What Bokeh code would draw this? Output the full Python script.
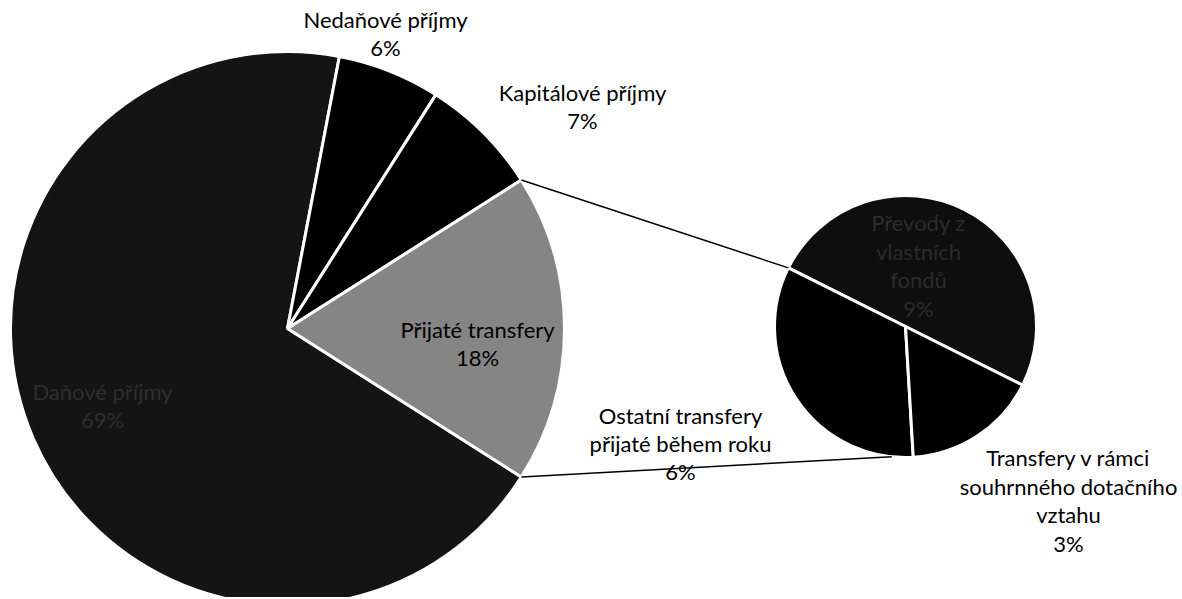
import math
from bokeh.plotting import figure
from bokeh.models import Range1d, ColumnDataSource
from bokeh.core.properties import value
from bokeh.embed import file_html
from bokeh.resources import INLINE

# ---- data (percent shares) ----
main_categories = ["Daňové příjmy", "Nedaňové příjmy", "Kapitálové příjmy", "Přijaté transfery"]
main_values = [69, 6, 7, 18]
main_labels = ["69%", "6%", "7%", "18%"]

sub_categories = ["Převody z\nvlastních\nfondů", "Ostatní transfery\npřijaté během roku",
                  "Transfery v rámci\nsouhrnného dotačního\nvztahu"]
sub_values = [9, 6, 3]
sub_labels = ["9%", "6%", "3%"]

# ---- layout / style ----
W, H = 1180, 597
OX, OY = 0, 0  # data coords equal screen pixels
main_c = (287, 328)
main_r = 277
sub_c = (905, 326)
sub_r = 131
sub_start_deg = -26.6
conn_end_deg = (153.4, -96.0)

main_colors = ["#141414", "#000000", "#000000", "#858585"]
sub_colors = ["#0e0e0e", "#000000", "#000000"]
main_text_colors = ["#2e2e2e", "black", "black", "black"]
sub_text_colors = ["#2c2c2c", "black", "black"]
main_label_pos = [(102, 405), (385, 33), (582, 106), (477, 343)]
sub_label_pos = [(918, 265), (680, 443), (1068, 500)]

FONT = "Lato"
FS = "22px"

p = figure(width=W, height=H, output_backend="svg", toolbar_location=None,
           x_range=Range1d(OX, OX + W), y_range=Range1d(-(OY + H), -OY),
           min_border=0)
p.axis.visible = False
p.xgrid.visible = False
p.ygrid.visible = False
p.outline_line_color = None
p.background_fill_color = "white"
p.border_fill_color = "white"

# main pie: "other" slice (Přijaté transfery) centred on the right (0 deg)
tot = sum(main_values)
ang = [v / tot * 2 * math.pi for v in main_values]
t_half = ang[3] / 2
order = [3, 2, 1, 0]
starts, ends = {}, {}
a = -t_half
for i in order:
    starts[i] = a
    ends[i] = a + ang[i]
    a += ang[i]

src_main = ColumnDataSource(dict(
    x=[main_c[0]] * 4, y=[-main_c[1]] * 4,
    start=[starts[i] for i in range(4)], end=[ends[i] for i in range(4)],
    color=main_colors, name=main_categories))
p.wedge(x="x", y="y", radius=main_r, start_angle="start", end_angle="end",
        fill_color="color", line_color="white", line_width=3, source=src_main)

# secondary pie
stot = sum(sub_values)
s_st, s_en = [], []
a = math.radians(sub_start_deg)
for v in sub_values:
    s_st.append(a)
    a += v / stot * 2 * math.pi
    s_en.append(a)
src_sub = ColumnDataSource(dict(
    x=[sub_c[0]] * 3, y=[-sub_c[1]] * 3, start=s_st, end=s_en,
    color=sub_colors, name=sub_categories))
p.wedge(x="x", y="y", radius=sub_r, start_angle="start", end_angle="end",
        fill_color="color", line_color="white", line_width=3, source=src_sub)

# connector lines
for edge, e_deg in ((starts[3] + ang[3], conn_end_deg[0]), (starts[3], conn_end_deg[1])):
    x0 = main_c[0] + main_r * math.cos(edge)
    y0 = -main_c[1] + main_r * math.sin(edge)
    x1 = sub_c[0] + sub_r * math.cos(math.radians(e_deg))
    y1 = -sub_c[1] + sub_r * math.sin(math.radians(e_deg))
    p.line([x0, x1], [y0, y1], line_color="black", line_width=1.5)

# labels
lab_x = [pos[0] for pos in main_label_pos] + [pos[0] for pos in sub_label_pos]
lab_y = [-pos[1] for pos in main_label_pos] + [-pos[1] for pos in sub_label_pos]
lab_t = [f"{n}\n{l}" for n, l in zip(main_categories, main_labels)] + \
        [f"{n}\n{l}" for n, l in zip(sub_categories, sub_labels)]
lab_c = main_text_colors + sub_text_colors
p.text(x=lab_x, y=lab_y, text=lab_t, text_color=lab_c, text_align="center",
       text_baseline="middle", text_font=value(FONT), text_font_size=FS,
       text_line_height=1.05)

open("out.html", "w").write(file_html(p, INLINE))
